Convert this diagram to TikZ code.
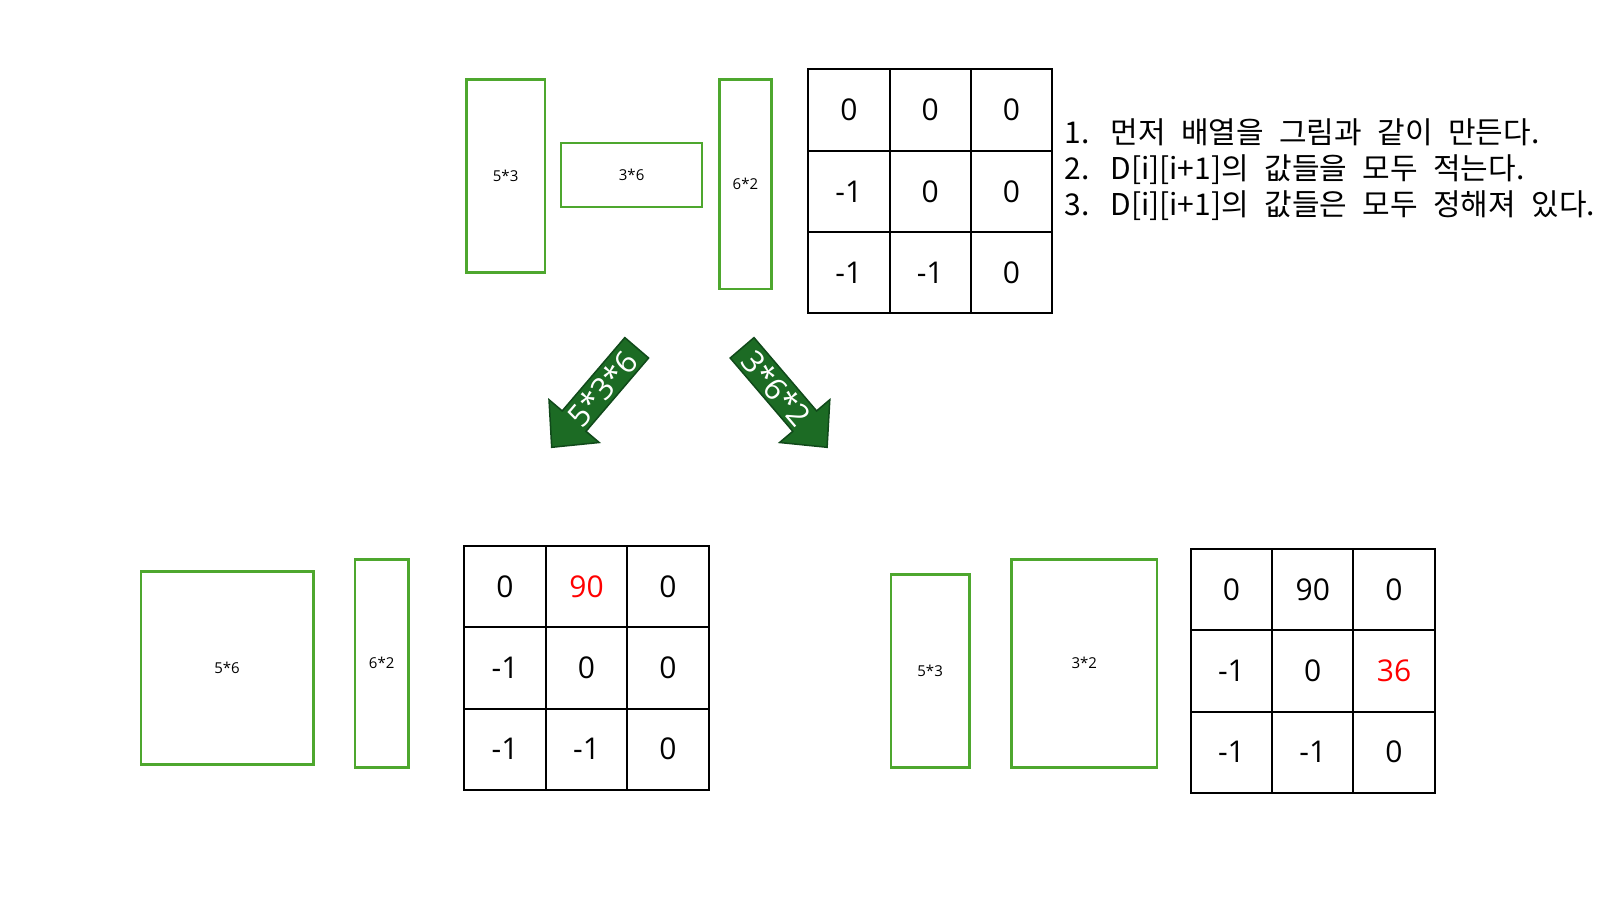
\documentclass[tikz,border=0pt]{standalone}
\usepackage{fontspec}
\setmainfont{Open Sans}
\newfontfamily\krfont{Noto Sans CJK KR}[WordSpace=2.3]
\definecolor{boxgreen}{HTML}{4EA72E}
\definecolor{arrowfill}{HTML}{1C6B24}
\definecolor{arrowline}{HTML}{10491A}
\begin{document}
\begin{tikzpicture}[x=0.5pt,y=-0.5pt,
  gbox/.style={draw=boxgreen, line width=1.25pt, inner sep=0pt, font=\fontsize{7.5}{9}\selectfont},
  cell/.style={draw=black, line width=1pt, minimum width=40.65pt, minimum height=40.65pt, inner sep=0pt, font=\fontsize{15}{18}\selectfont},
  bigarrow/.style={fill=arrowfill, draw=arrowline, line width=0.75pt, line join=miter},
  arrowlabel/.style={text=white, font=\fontsize{15.5}{17}\selectfont, inner sep=0pt},
  note/.style={anchor=base west, inner sep=0pt, font=\krfont\fontsize{15}{18}\selectfont}]
\useasboundingbox (0,0) rectangle (1600,900);

% top row boxes
\node[gbox, minimum width=39.3pt, minimum height=96.4pt] (t53) at (505.6,176) {5*3};
\node[gbox, minimum width=70.4pt, minimum height=32.1pt] (t36) at (631.6,175) {3*6};
\node[gbox, minimum width=26pt, minimum height=104.6pt] (t62) at (745.4,184.2) {6*2};

% top table
\foreach \r/\c/\v in {1/1/0,1/2/0,1/3/0,2/1/-1,2/2/0,2/3/0,3/1/-1,3/2/-1,3/3/0}
  \node[cell] (ta-\r-\c) at ({808.2+(\c-0.5)*81.3},{69.4+(\r-0.5)*81.3}) {\v};

% notes
\node[note] (n1) at (1064,143) {\makebox[23pt][l]{1.}먼저 배열을 그림과 같이 만든다.};
\node[note] (n2) at (1064,179) {\makebox[23pt][l]{2.}D[i][i+1]의 값들을 모두 적는다.};
\node[note] (n3) at (1064,215) {\makebox[23pt][l]{3.}D[i][i+1]의 값들은 모두 정해져 있다.};

% arrows
\draw[bigarrow] (551.7,447.3) -- (599.2,442.5) -- (586.0,431.3) -- (648.6,358.0) -- (624.8,337.6) -- (562.2,410.9) -- (549.0,399.7) -- cycle;
\node[arrowlabel, rotate=49.5] (al) at (602.5,388.5) {5*3*6};
\draw[bigarrow] (827.1,447.3) -- (779.6,442.5) -- (792.8,431.3) -- (730.2,358.0) -- (754.0,337.6) -- (816.6,410.9) -- (829.8,399.7) -- cycle;
\node[arrowlabel, rotate=-49.5] (ar) at (776.3,388.5) {3*6*2};

% bottom left
\node[gbox, minimum width=86.25pt, minimum height=96.45pt] (b56) at (227,667.9) {5*6};
\node[gbox, minimum width=26.55pt, minimum height=104.05pt] (b62) at (381.7,663.3) {6*2};
\foreach \r/\c/\v in {1/1/0,1/2/{\textcolor{red}{90}},1/3/0,2/1/-1,2/2/0,2/3/0,3/1/-1,3/2/-1,3/3/0}
  \node[cell] (tb-\r-\c) at ({464.3+(\c-0.5)*81.5},{545.9+(\r-0.5)*81.3}) {\v};

% bottom right
\node[gbox, minimum width=39.3pt, minimum height=96.4pt] (c53) at (930.1,670.9) {5*3};
\node[gbox, minimum width=72.95pt, minimum height=104.05pt] (c32) at (1084.2,663.3) {3*2};
\foreach \r/\c/\v in {1/1/0,1/2/90,1/3/0,2/1/-1,2/2/0,2/3/{\textcolor{red}{36}},3/1/-1,3/2/-1,3/3/0}
  \node[cell] (tc-\r-\c) at ({1190.8+(\c-0.5)*81.3},{549+(\r-0.5)*81.3}) {\v};
\end{tikzpicture}
\end{document}
